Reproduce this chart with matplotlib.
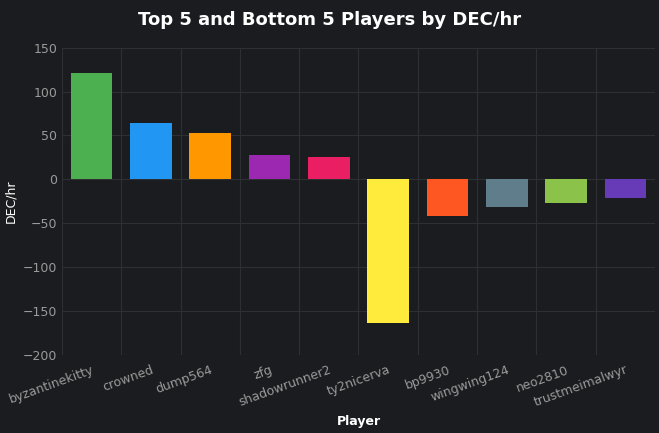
import matplotlib
matplotlib.use("Agg")
import matplotlib.pyplot as plt
import numpy as np
from matplotlib.patches import FancyBboxPatch

players = ["byzantinekitty", "crowned", "dump564", "zfg", "shadowrunner2",
           "ty2nicerva", "bp9930", "wingwing124", "neo2810", "trustmeimalwyr"]
dec_hr = [121, 64, 53, 28, 26, -163, -42, -31, -27, -21]
colors = ["#4caf50", "#2196f3", "#ff9800", "#9c27b0", "#e91e63",
          "#ffeb3b", "#ff5722", "#607d8b", "#8bc34a", "#673ab7"]
yticks = [150, 100, 50, 0, -50, -100, -150, -200]

bg = "#1b1c1f"
fig = plt.figure(figsize=(6.59, 4.33), dpi=100, facecolor=bg)
ax = fig.add_axes([0.094, 0.18, 0.9, 0.71], facecolor=bg)
x = np.arange(len(players))
ax.bar(x, dec_hr, width=0.7, color=colors, zorder=3)
ax.set_xlim(-0.5, len(players) - 0.5)
ax.set_ylim(-200, 150)
ax.set_yticks(yticks)
ax.set_xticks(x)
ax.set_xticklabels(players, rotation=20, ha="right", rotation_mode="anchor")
ax.set_xticks(np.arange(-0.5, len(players), 1), minor=True)
ax.grid(axis="y", color="#2e2f33", lw=0.8, zorder=0)
ax.grid(axis="x", which="minor", color="#2e2f33", lw=0.8, zorder=0)
ax.tick_params(axis="both", which="both", length=0, colors="#9a9a9a", labelsize=9)
ax.tick_params(axis="x", which="major", pad=6)
for s in ax.spines.values():
    s.set_visible(False)
ax.set_xlabel("Player", color="white", fontsize=9, fontweight="bold")
ax.set_ylabel("DEC/hr", color="white", fontsize=9)
fig.suptitle("Top 5 and Bottom 5 Players by DEC/hr", color="white",
             fontsize=13, fontweight="bold", y=0.975)
fig.savefig("out.png", facecolor=bg)
